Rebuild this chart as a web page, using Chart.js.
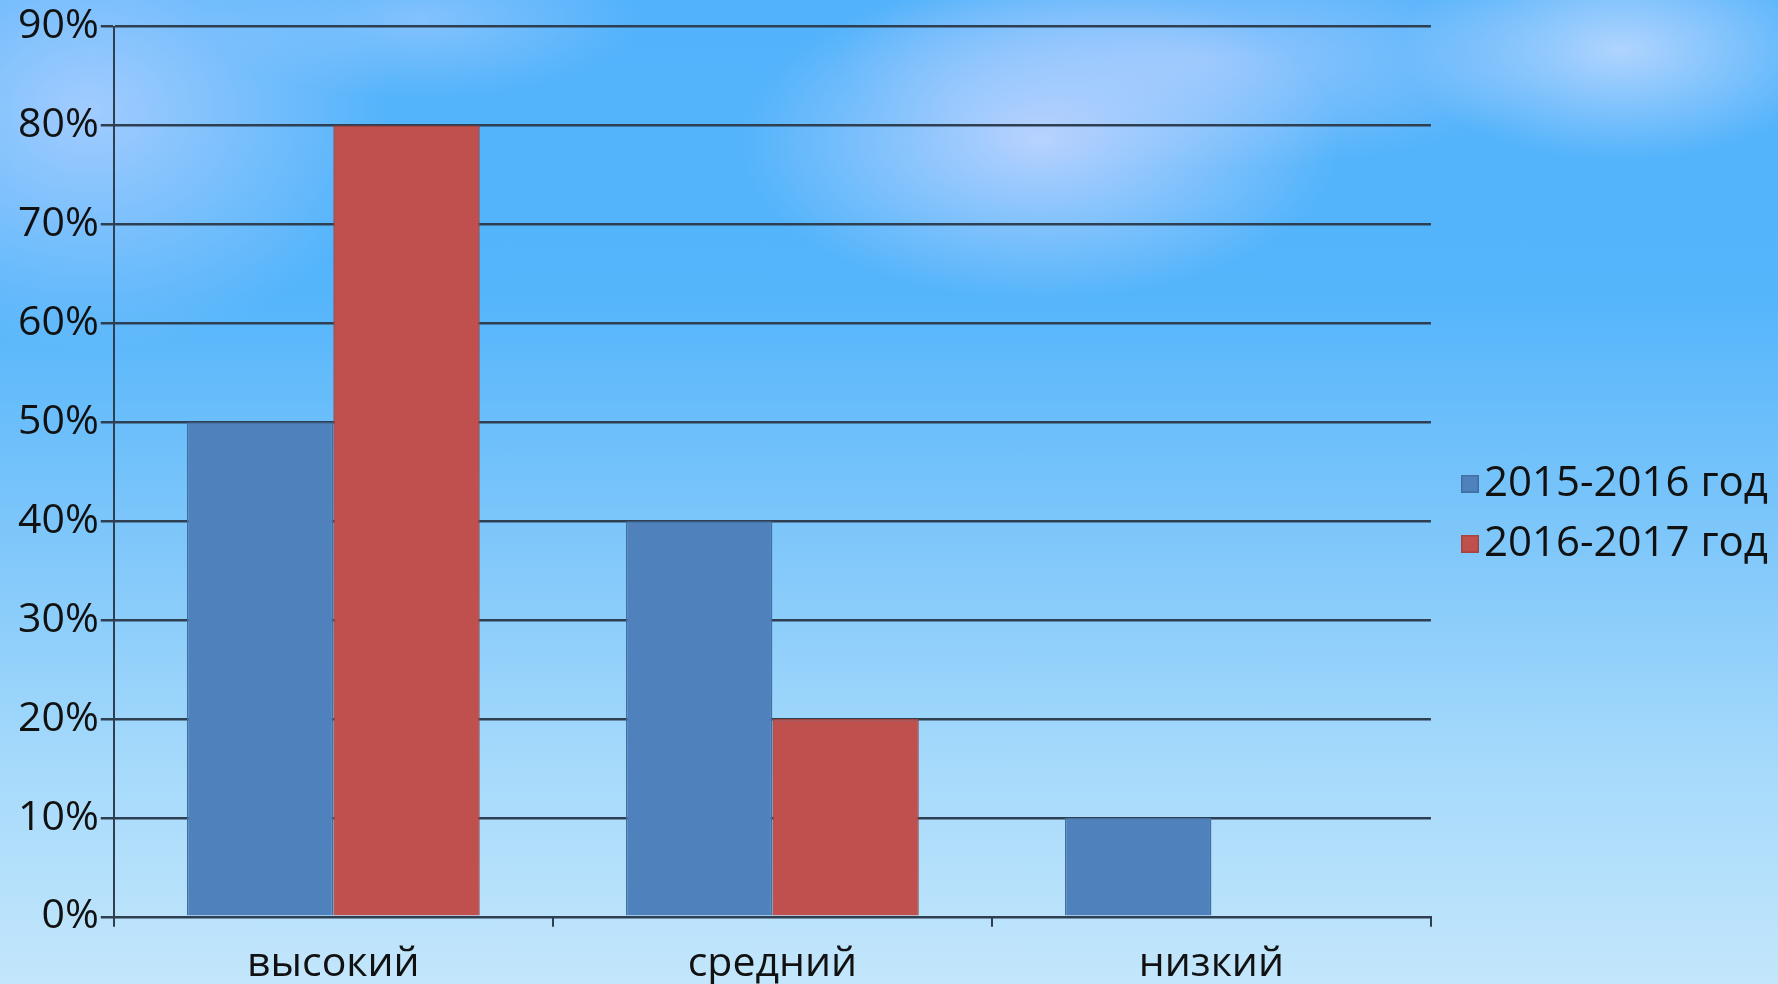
<!DOCTYPE html>
<html lang="ru">
<head>
  <meta charset="UTF-8" />
  <title>Уровни</title>
  <script src="https://cdn.jsdelivr.net/npm/chart.js"></script>
  <style>
    html, body {
      margin: 0;
      padding: 0;
      width: 1778px;
      height: 984px;
      overflow: hidden;
    }
    body {
      background:
        radial-gradient(ellipse 300px 160px at 1040px 140px, rgba(200, 215, 255, 0.85), rgba(200, 215, 255, 0) 100%),
        radial-gradient(ellipse 360px 110px at 1200px 60px, rgba(190, 210, 255, 0.6), rgba(190, 210, 255, 0) 100%),
        radial-gradient(ellipse 220px 110px at 1620px 50px, rgba(200, 220, 255, 0.8), rgba(200, 220, 255, 0) 100%),
        radial-gradient(ellipse 300px 240px at 90px 110px, rgba(175, 208, 255, 0.85), rgba(175, 208, 255, 0) 100%),
        radial-gradient(ellipse 220px 80px at 420px 20px, rgba(180, 210, 255, 0.5), rgba(180, 210, 255, 0) 100%),
        linear-gradient(to bottom, #52b2fb 0%, #55b5fb 30%, #7fc7fa 55%, #a6dafb 78%, #c3e6fb 100%);
    }
    #wrap {
      position: absolute;
      left: 0;
      top: 0;
      width: 1778px;
      height: 984px;
    }
  </style>
</head>
<body>
  <div id="wrap"><canvas id="chart"></canvas></div>

  <script>
    const categories = ["высокий", "средний", "низкий"];
    const seriesNames = ["2015-2016 год", "2016-2017 год"];
    const values2015 = [0.5, 0.4, 0.1];
    const values2017 = [0.8, 0.2, 0];
    const yTicks = [0, 0.1, 0.2, 0.3, 0.4, 0.5, 0.6, 0.7, 0.8, 0.9];

    const font = "'Open Sans', sans-serif";
    const lineColor = "#2e3f52";
    const legendFont = 42;

    // legend marker: small square pushed to the right so it sits close to the text
    function marker(fill, stroke) {
      const c = document.createElement("canvas");
      c.width = 56;
      c.height = 18;
      const g = c.getContext("2d");
      g.fillStyle = fill;
      g.fillRect(33, 0, 18, 18);
      g.strokeStyle = stroke;
      g.lineWidth = 1.5;
      g.strokeRect(33.75, 0.75, 16.5, 16.5);
      return c;
    }

    const ctx = document.getElementById("chart").getContext("2d");
    const chart = new Chart(ctx, {
      type: "bar",
      data: {
        labels: categories,
        datasets: [
          {
            label: seriesNames[0],
            data: values2015,
            backgroundColor: "#4f81bd",
            borderColor: "#416f9f",
            borderWidth: 1.5,
            categoryPercentage: 0.667,
            barPercentage: 1.0,
            pointStyle: marker("#4f81bd", "#416f9f")
          },
          {
            label: seriesNames[1],
            data: values2017,
            backgroundColor: "#c0504d",
            borderColor: "#a4433f",
            borderWidth: 1.5,
            categoryPercentage: 0.667,
            barPercentage: 1.0,
            pointStyle: marker("#c0504d", "#a4433f")
          }
        ]
      },
      options: {
        responsive: true,
        maintainAspectRatio: false,
        animation: false,
        layout: {
          padding: { left: 16, right: 0, top: 8, bottom: -18 }
        },
        plugins: {
          tooltip: { enabled: false },
          legend: {
            position: "right",
            title: {
              display: true,
              text: " ",
              font: { family: font, size: 8 },
              padding: 4
            },
            labels: {
              color: "#111",
              font: { family: font, size: legendFont },
              usePointStyle: true,
              boxWidth: 14,
              boxHeight: 18,
              padding: 18
            }
          }
        },
        scales: {
          x: {
            grid: {
              drawOnChartArea: false,
              drawTicks: true,
              tickLength: 10,
              color: lineColor,
              lineWidth: 2
            },
            border: { color: lineColor, width: 2 },
            ticks: {
              color: "#111",
              font: { family: font, size: 41 },
              padding: 13
            }
          },
          y: {
            min: 0,
            max: 0.9,
            afterBuildTicks: (axis) => {
              axis.ticks = yTicks.map(v => ({ value: v }));
            },
            grid: {
              color: lineColor,
              lineWidth: 2.5,
              tickLength: 13
            },
            border: { color: lineColor, width: 2 },
            ticks: {
              color: "#111",
              font: { family: font, size: 41 },
              padding: 2,
              callback: (v) => Math.round(v * 100) + "%"
            }
          }
        }
      }
    });
  </script>
</body>
</html>
